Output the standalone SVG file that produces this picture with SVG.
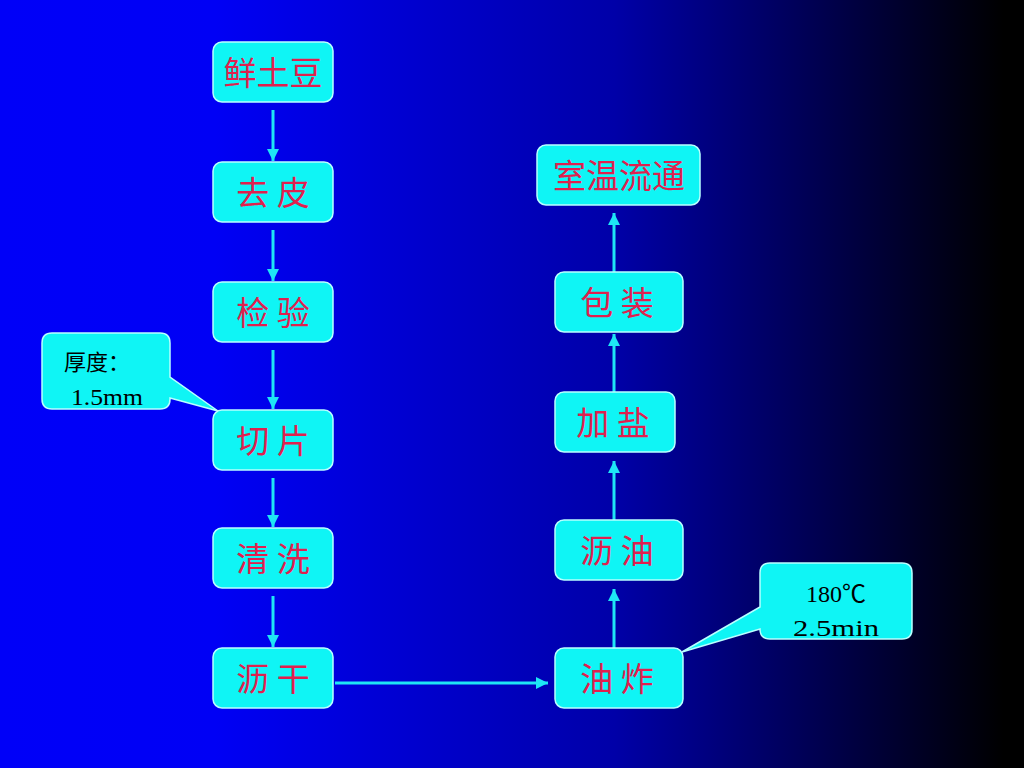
<svg xmlns="http://www.w3.org/2000/svg" width="1024" height="768" viewBox="0 0 1024 768">
<defs>
<linearGradient id="bg" x1="0" y1="0" x2="1" y2="0">
<stop offset="0" stop-color="#0000f8"/>
<stop offset="0.21" stop-color="#0000f5"/>
<stop offset="0.6" stop-color="#0000a8"/>
<stop offset="0.98" stop-color="#000000"/>
</linearGradient>
<marker id="ah" viewBox="0 0 12 12" refX="12" refY="6" markerWidth="12" markerHeight="12" markerUnits="userSpaceOnUse" orient="auto">
<path d="M0,0 L12,6 L0,12 Z" fill="#1ee6f5"/>
</marker>
<style>
.box{fill:#0ff5f5;stroke:#b8ffff;stroke-width:1.5}
.call{fill:#0ff5f5;stroke:#b8ffff;stroke-width:1.5}
.lbl{font-family:"Noto Sans CJK SC","Noto Sans",sans-serif;font-size:33px;fill:#e0204e;text-anchor:middle}
.note{font-family:"Liberation Serif","Noto Sans CJK SC",serif;font-size:24px;fill:#000000}
.cj{font-family:"Noto Sans CJK SC",sans-serif;font-size:22px;fill:#000000}
.conn line{stroke:#1ee6f5;stroke-width:3;marker-end:url(#ah)}
</style>
</defs>
<rect width="1024" height="768" fill="url(#bg)"/>

<g id="conn" class="conn">
<line x1="273" y1="110" x2="273" y2="161"/>
<line x1="273" y1="230" x2="273" y2="281"/>
<line x1="273" y1="350" x2="273" y2="409"/>
<line x1="273" y1="478" x2="273" y2="527"/>
<line x1="273" y1="596" x2="273" y2="647"/>
<line x1="335" y1="683" x2="548" y2="683"/>
<line x1="614" y1="648" x2="614" y2="589"/>
<line x1="614" y1="520" x2="614" y2="461"/>
<line x1="614" y1="392" x2="614" y2="334"/>
<line x1="614" y1="272" x2="614" y2="213"/>
</g>

<g id="n1"><rect class="box" x="213" y="42" width="120" height="60" rx="9"/><text class="lbl" x="273" y="85">鲜土豆</text></g>
<g id="n2"><rect class="box" x="213" y="162" width="120" height="60" rx="9"/><text class="lbl" x="273" y="205">去 皮</text></g>
<g id="n3"><rect class="box" x="213" y="282" width="120" height="60" rx="9"/><text class="lbl" x="273" y="325">检 验</text></g>
<g id="n4"><rect class="box" x="213" y="410" width="120" height="60" rx="9"/><text class="lbl" x="273" y="453">切 片</text></g>
<g id="n5"><rect class="box" x="213" y="528" width="120" height="60" rx="9"/><text class="lbl" x="273" y="571">清 洗</text></g>
<g id="n6"><rect class="box" x="213" y="648" width="120" height="60" rx="9"/><text class="lbl" x="273" y="691">沥 干</text></g>

<g id="n7"><rect class="box" x="555" y="648" width="128" height="60" rx="9"/><text class="lbl" x="617" y="691">油 炸</text></g>
<g id="n8"><rect class="box" x="555" y="520" width="128" height="60" rx="9"/><text class="lbl" x="617" y="563">沥 油</text></g>
<g id="n9"><rect class="box" x="555" y="392" width="120" height="60" rx="9"/><text class="lbl" x="613" y="435">加 盐</text></g>
<g id="n10"><rect class="box" x="555" y="272" width="128" height="60" rx="9"/><text class="lbl" x="617" y="315">包 装</text></g>
<g id="n11"><rect class="box" x="537" y="145" width="163" height="60" rx="9"/><text class="lbl" x="619" y="188">室温流通</text></g>

<g id="c1">
<path class="call" d="M52,333 H160 Q170,333 170,343 V377 L218,411 L170,398 V399 Q170,409 160,409 H52 Q42,409 42,399 V343 Q42,333 52,333 Z"/>
<text class="cj" x="64" y="370">厚度：</text>
<text class="note" x="71" y="405" textLength="72" lengthAdjust="spacingAndGlyphs">1.5mm</text>
</g>

<g id="c2">
<path class="call" d="M770,563 H902 Q912,563 912,573 V629 Q912,639 902,639 H770 Q760,639 760,629 L682,652 L760,607 V573 Q760,563 770,563 Z"/>
<text class="note" x="836" y="602" text-anchor="middle">180℃</text>
<text class="note" x="836" y="636" text-anchor="middle" textLength="86" lengthAdjust="spacingAndGlyphs">2.5min</text>
</g>
</svg>
